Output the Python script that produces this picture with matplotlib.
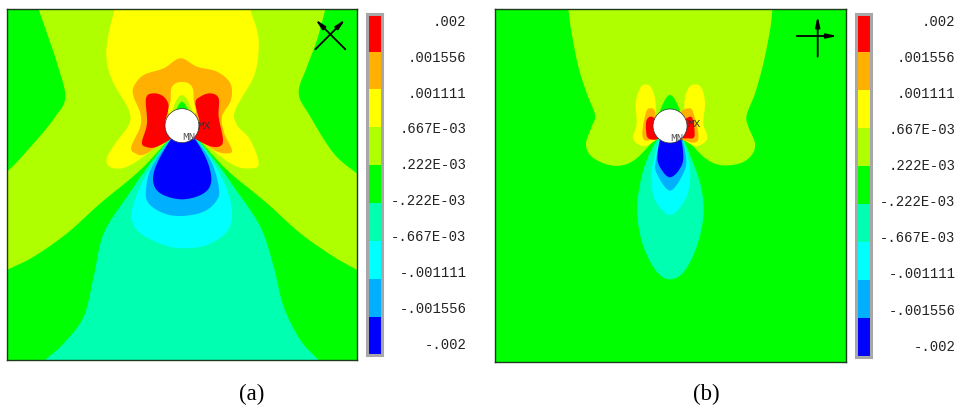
import numpy as np
import matplotlib
matplotlib.use('Agg')
import matplotlib.pyplot as plt
from matplotlib.patches import Circle, Polygon

# contour levels and colours, bottom to top
levels = [-.002, -.001556, -.001111, -.000667, -.000222, .000222, .000667, .001111, .001556, .002]
band_colors = ['#0000ff', '#00b0ff', '#00ffff', '#00ffb0', '#00ff00', '#b0ff00', '#ffff00', '#ffb000', '#ff0000']
level_labels = ['.002', '.001556', '.001111', '.667E-03', '.222E-03',
                '-.222E-03', '-.667E-03', '-.001111', '-.001556', '-.002']
GREEN, YGREEN, YELLOW, ORANGE, RED = '#00ff00', '#b0ff00', '#ffff00', '#ffb000', '#ff0000'
TEAL, CYAN, SKY, BLUE = '#00ffb0', '#00ffff', '#00b0ff', '#0000ff'

# outlines, panel (a)
a_ygreen = [(100, -40), (115, 27), (140, 100), (170, 190), (195, 290), (165, 350), (100, 430), (20, 515), (-30, 540),
            (-30, 840), (20, 810), (100, 770), (200, 700), (300, 610), (420, 510), (530, 395),
            (570, 395), (680, 510), (800, 610), (900, 700), (1000, 770), (1070, 810), (1120, 840),
            (1120, 550), (1070, 520), (1000, 460), (930, 350), (895, 280), (920, 200), (950, 120), (975, 27), (990, -40)]
a_teal = [(90, 1130), (135, 1080), (190, 1030), (250, 950), (280, 830), (310, 700), (380, 590), (450, 490), (530, 395),
          (570, 395), (650, 490), (700, 560), (780, 680), (820, 800), (850, 920), (900, 1020), (955, 1080), (1000, 1130)]
a_cyan = [(530, 395), (440, 520), (400, 610), (395, 660), (420, 700), (490, 735), (550, 745), (620, 735), (680, 695),
          (695, 640), (680, 570), (640, 490), (565, 395)]
a_sky = [(530, 395), (455, 500), (437, 570), (445, 610), (490, 640), (545, 648), (610, 635), (650, 600), (655, 560),
         (630, 480), (565, 395)]
a_blue = [(530, 395), (475, 480), (458, 540), (480, 580), (545, 598), (610, 580), (633, 540), (615, 470), (565, 395)]
a_yellow = [(345, -40), (342, 27), (325, 100), (318, 170), (335, 240), (385, 330), (385, 375), (345, 430), (318, 480),
            (340, 505), (400, 490), (530, 395), (565, 395), (690, 490), (750, 505), (775, 490), (750, 420), (710, 375),
            (705, 330), (760, 230), (775, 150), (770, 90), (750, 27), (745, -40)]
a_orange = [(400, 260), (430, 225), (490, 205), (540, 175), (590, 200), (650, 215), (690, 250), (692, 300), (665, 350),
            (672, 400), (695, 450), (680, 460), (640, 450), (565, 395), (530, 395), (440, 460), (405, 460), (393, 440),
            (420, 380), (420, 340), (400, 290)]
a_red_l = [(437, 295), (460, 280), (490, 290), (505, 320), (495, 375), (530, 400), (470, 440), (435, 440), (425, 425),
           (440, 370)]
a_red_r = [(585, 310), (600, 290), (630, 280), (655, 295), (655, 350), (668, 420), (655, 440), (620, 435), (565, 400),
           (597, 375)]
a_slot_y = [(511, 300), (513, 265), (530, 248), (560, 248), (577, 265), (580, 300), (582, 345), (508, 345)]
a_slot_g = [(518, 345), (522, 315), (532, 295), (545, 285), (558, 295), (568, 315), (574, 345)]
a_slot_c = [(526, 345), (532, 320), (545, 305), (558, 320), (564, 345)]
a_shapes = [(a_ygreen, YGREEN), (a_teal, TEAL), (a_cyan, CYAN), (a_sky, SKY), (a_blue, BLUE), (a_yellow, YELLOW),
            (a_orange, ORANGE), (a_red_l, RED), (a_red_r, RED), (a_slot_y, YELLOW), (a_slot_g, YGREEN),
            (a_slot_c, GREEN)]

# outlines, panel (b)
b_ygreen = [(260, -40), (265, 27), (275, 100), (295, 200), (320, 280), (345, 345), (335, 380), (318, 430), (330, 465),
            (370, 490), (420, 497), (470, 475), (550, 395), (595, 395), (670, 470), (720, 495), (780, 490), (815, 465),
            (825, 430), (805, 380), (800, 345), (825, 280), (850, 190), (870, 90), (877, 27), (880, -40)]
b_teal = [(550, 395), (500, 480), (475, 580), (472, 650), (490, 740), (530, 815), (570, 838), (612, 815), (650, 740),
          (670, 650), (665, 570), (640, 490), (595, 395)]
b_cyan = [(550, 395), (520, 480), (515, 540), (525, 600), (570, 645), (615, 600), (630, 540), (625, 480), (595, 395)]
b_sky = [(550, 395), (528, 480), (530, 520), (570, 572), (610, 520), (618, 470), (595, 395)]
b_blue = [(550, 395), (532, 470), (545, 510), (570, 532), (597, 510), (610, 470), (595, 395)]
b_top = [(542, 345), (552, 305), (570, 285), (588, 305), (598, 345)]
b_yellow_l = [(467, 310), (480, 265), (497, 253), (515, 265), (527, 310), (525, 390), (550, 400), (500, 437),
              (470, 430), (460, 410), (470, 370)]
b_yellow_r = [(613, 310), (625, 265), (645, 253), (665, 265), (675, 310), (670, 370), (682, 410), (670, 430),
              (640, 437), (590, 400), (617, 390)]
b_orange_l = [(487, 400), (497, 340), (508, 325), (525, 335), (530, 400), (550, 405), (500, 422)]
b_orange_r = [(600, 340), (630, 325), (642, 345), (655, 400), (650, 425), (625, 425), (590, 405)]
b_red_l = [(500, 360), (515, 350), (535, 370), (535, 415), (505, 415), (498, 390)]
b_red_r = [(605, 370), (630, 350), (640, 365), (643, 410), (625, 415), (605, 410)]
b_shapes = [(b_ygreen, YGREEN), (b_teal, TEAL), (b_cyan, CYAN), (b_sky, SKY), (b_blue, BLUE), (b_top, GREEN),
            (b_yellow_l, YELLOW), (b_yellow_r, YELLOW), (b_orange_l, ORANGE), (b_orange_r, ORANGE),
            (b_red_l, RED), (b_red_r, RED)]

W, H = 960, 407


def smooth(pts, n=10):
    # closed catmull-rom through the read points, the contours are round in the original
    p = np.array(pts, dtype=float)
    p0, p1, p2, p3 = np.roll(p, 1, axis=0), p, np.roll(p, -1, axis=0), np.roll(p, -2, axis=0)
    out = []
    for t in np.arange(n) / n:
        out.append(0.5 * (2 * p1 + (p2 - p0) * t + (2 * p0 - 5 * p1 + 4 * p2 - p3) * t ** 2
                          + (3 * p1 - p0 - 3 * p2 + p3) * t ** 3))
    return np.stack(out, axis=1).reshape(-1, 2)


def px_axes(fig, x0, y0, x1, y1):
    return fig.add_axes([x0 / W, 1 - y1 / H, (x1 - x0) / W, (y1 - y0) / H])


def arrow(ax, start, end):
    ax.annotate('', xy=end, xytext=start,
                arrowprops=dict(arrowstyle='-|>,head_width=0.13,head_length=0.6', color='black', lw=1.3,
                                mutation_scale=10, shrinkA=0, shrinkB=0))


def panel(fig, box, xlim, ylim, shapes, centre, mx, mn, arrows):
    ax = px_axes(fig, *box)
    ax.set_xlim(*xlim)
    ax.set_ylim(ylim[1], ylim[0])
    ax.set_facecolor(GREEN)
    for pts, col in shapes:
        ax.add_patch(Polygon(smooth(pts), closed=True, facecolor=col, edgecolor='none'))
    ax.add_patch(Circle(centre, 51, facecolor='white', edgecolor='#333333', lw=0.5))
    ax.text(*mx, 'MX', family='Liberation Mono', fontsize=8, color='#333333', ha='center', va='center')
    ax.text(*mn, 'MN', family='Liberation Mono', fontsize=8, color='#555555', ha='center', va='center')
    for start, end in arrows:
        arrow(ax, start, end)
    ax.set_xticks([])
    ax.set_yticks([])
    for s in ax.spines.values():
        s.set_color('#1f3a1f')
        s.set_linewidth(1.0)


def colorbar(fig, x0, x1, y0, y1):
    ax = px_axes(fig, x0, y0, x1, y1)
    bottoms = np.array(levels[:-1])
    heights = np.diff(levels)
    ax.bar(0, heights, bottom=bottoms, width=1, color=band_colors, align='center')
    ax.set_xlim(-0.5, 0.5)
    ax.set_ylim(levels[0], levels[-1])
    ax.set_xticks([])
    ax.set_yticks([])
    for s in ax.spines.values():
        s.set_color('#a8a8a8')
        s.set_linewidth(2.2)


def bar_labels(fig, x, y_top, y_bottom):
    for lab, y in zip(level_labels, np.linspace(y_top, y_bottom, len(level_labels))):
        fig.text(x / W, 1 - y / H, lab, family='Liberation Mono', fontsize=10, color='#222222',
                 ha='right', va='center')


fig = plt.figure(figsize=(9.6, 4.07), dpi=100)

panel(fig, (7, 9, 357, 360), (20, 1070), (27, 1080), a_shapes, (545, 377), (612, 377), (565, 412),
      [((1035, 148), (945, 58)), ((945, 148), (1035, 58))])
panel(fig, (495, 9, 845.7, 362.3), (45, 1097), (27, 1087), b_shapes, (570, 378), (641, 372), (590, 414),
      [((1013, 170), (1013, 48)), ((950, 108), (1072, 108))])

colorbar(fig, 367, 382, 13.7, 354.5)
colorbar(fig, 855.5, 871, 13.7, 356.5)
bar_labels(fig, 466.5, 21.7, 345)
bar_labels(fig, 955.5, 21.7, 346.7)

fig.text(252 / W, 1 - 394 / H, '(a)', family='Liberation Serif', fontsize=16.5, ha='center', va='center')
fig.text(706 / W, 1 - 394 / H, '(b)', family='Liberation Serif', fontsize=16.5, ha='center', va='center')

fig.savefig('out.png', dpi=100)
